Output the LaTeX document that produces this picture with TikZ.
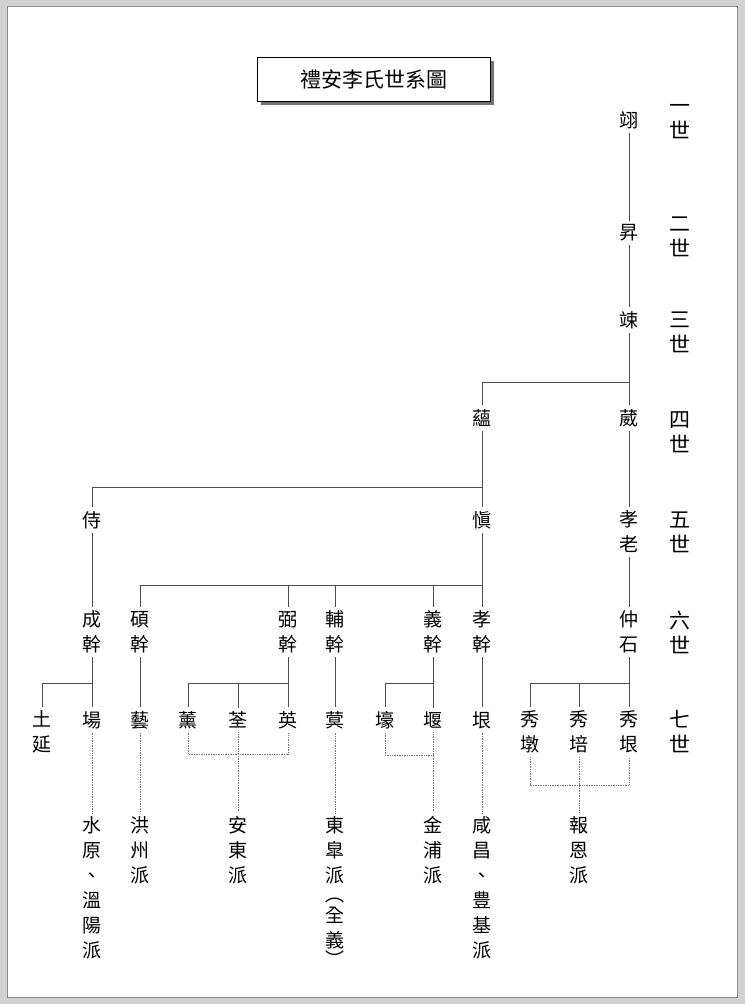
\documentclass[tikz,border=0pt]{standalone}
\usepackage{fontspec}
\setmainfont{Noto Sans CJK TC}
\usetikzlibrary{calc}
\tikzset{
  nm/.style={font=\fontsize{19}{25}\selectfont, align=center, inner sep=0pt, outer sep=4pt},
  gen/.style={font=\fontsize{21}{25}\selectfont, align=center, inner sep=0pt},
  ln/.style={draw=black!70, line width=0.8pt},
  dl/.style={draw=black!55, line width=0.7pt, densely dotted},
}
\begin{document}
\begin{tikzpicture}[x=1pt,y=-1pt]
\useasboundingbox (0,0) rectangle (745,1004);
\fill[black!18] (0,0) rectangle (745,1004);
\fill[white] (7,6) rectangle (737,997);
\draw[black!45, line width=1pt] (7,6) rectangle (737,997);
% title
\fill[black!55] (261,61) rectangle (494,105);
\node[draw=black, fill=white, line width=0.8pt, minimum width=233pt, minimum height=44pt, inner sep=0pt,
  font=\fontsize{21}{25}\selectfont] (title) at (373.5,79) {禮安李氏世系圖};
% generation labels
\node[gen] (g1) at (680,122) {一\\世};
\node[gen] (g2) at (680,237) {二\\世};
\node[gen] (g3) at (680,332) {三\\世};
\node[gen] (g4) at (680,432) {四\\世};
\node[gen] (g5) at (680,532) {五\\世};
\node[gen] (g6) at (680,632) {六\\世};
\node[gen] (g7) at (680,732) {七\\世};
% names
\node[nm] (ik) at (629,120) {翊};
\node[nm] (sung) at (629,233) {昇};
\node[nm] (song) at (629,320) {竦};
\node[nm] (on) at (482,418) {蘊};
\node[nm] (wi) at (629,418) {葳};
\node[nm] (si) at (92,520) {侍};
\node[nm] (sin) at (482,520) {愼};
\node[nm] (hyo) at (629,532) {孝\\老};
\node[nm] (sg) at (92,632) {成\\幹};
\node[nm] (sek) at (140,632) {碩\\幹};
\node[nm] (pil) at (288,632) {弼\\幹};
\node[nm] (bo) at (335,632) {輔\\幹};
\node[nm] (ui) at (433,632) {義\\幹};
\node[nm] (hg) at (482,632) {孝\\幹};
\node[nm] (jung) at (629,632) {仲\\石};
\node[nm] (toyeon) at (42,732) {土\\延};
\node[nm] (yang) at (92,720) {場};
\node[nm] (ye) at (140,720) {藝};
\node[nm] (hun) at (188,720) {薰};
\node[nm] (jeon) at (238,720) {荃};
\node[nm] (yeong) at (288,720) {英};
\node[nm] (myeong) at (335,720) {蓂};
\node[nm] (ho) at (385,720) {壕};
\node[nm] (eon) at (433,720) {堰};
\node[nm] (eun) at (482,720) {垠};
\node[nm] (sd) at (530,732) {秀\\墩};
\node[nm] (sb) at (579,732) {秀\\培};
\node[nm] (se) at (629,732) {秀\\垠};
% branches
\node[nm] (p1) at (92,888) {水\\原\\、\\溫\\陽\\派};
\node[nm] (p2) at (140,850) {洪\\州\\派};
\node[nm] (p3) at (238,850) {安\\東\\派};
\node[nm] (p4) at (335,892) {東\\皐\\派\\[-6pt]︵\\[-4pt]全\\義\\[-6pt]︶};
\node[nm] (p5) at (433,850) {金\\浦\\派};
\node[nm] (p6) at (482,888) {咸\\昌\\、\\豊\\基\\派};
\node[nm] (p7) at (579,850) {報\\恩\\派};
% bars
\coordinate (b4) at (0,382);
\coordinate (b5) at (0,487);
\coordinate (b6) at (0,585);
\coordinate (b7) at (0,683);
% solid connectors
\draw[ln] (ik) -- (sung);
\draw[ln] (sung) -- (song);
\draw[ln] (song) -- (wi);
\draw[ln] (song.south |- b4) -| (on.north);
\draw[ln] (on) -- (sin);
\draw[ln] (on.south |- b5) -| (si.north);
\draw[ln] (wi) -- (hyo);
\draw[ln] (si) -- (sg);
\draw[ln] (sin) -- (hg);
\draw[ln] (sin.south |- b6) -| (sek.north);
\draw[ln] (pil.north) -- (pil.north |- b6);
\draw[ln] (bo.north) -- (bo.north |- b6);
\draw[ln] (ui.north) -- (ui.north |- b6);
\draw[ln] (hyo) -- (jung);
\draw[ln] (sg) -- (yang);
\draw[ln] (sg.south |- b7) -| (toyeon.north);
\draw[ln] (sek) -- (ye);
\draw[ln] (pil) -- (yeong);
\draw[ln] (pil.south |- b7) -| (hun.north);
\draw[ln] (jeon.north) -- (jeon.north |- b7);
\draw[ln] (bo) -- (myeong);
\draw[ln] (ui) -- (eon);
\draw[ln] (ui.south |- b7) -| (ho.north);
\draw[ln] (hg) -- (eun);
\draw[ln] (jung) -- (se);
\draw[ln] (jung.south |- b7) -| (sd.north);
\draw[ln] (sb.north) -- (sb.north |- b7);
% dotted connectors
\coordinate (d3) at (0,754);
\coordinate (d5) at (0,755);
\coordinate (d7) at (0,785);
\draw[dl] (yang) -- (p1);
\draw[dl] (ye) -- (p2);
\draw[dl] (hun.south) |- (yeong.south |- d3) -- (yeong.south);
\draw[dl] (jeon) -- (p3);
\draw[dl] (myeong) -- (p4);
\draw[dl] (ho.south) |- (eon.south |- d5);
\draw[dl] (eon) -- (p5);
\draw[dl] (eun) -- (p6);
\draw[dl] (sd.south) |- (se.south |- d7) -- (se.south);
\draw[dl] (sb) -- (p7);
\end{tikzpicture}
\end{document}
